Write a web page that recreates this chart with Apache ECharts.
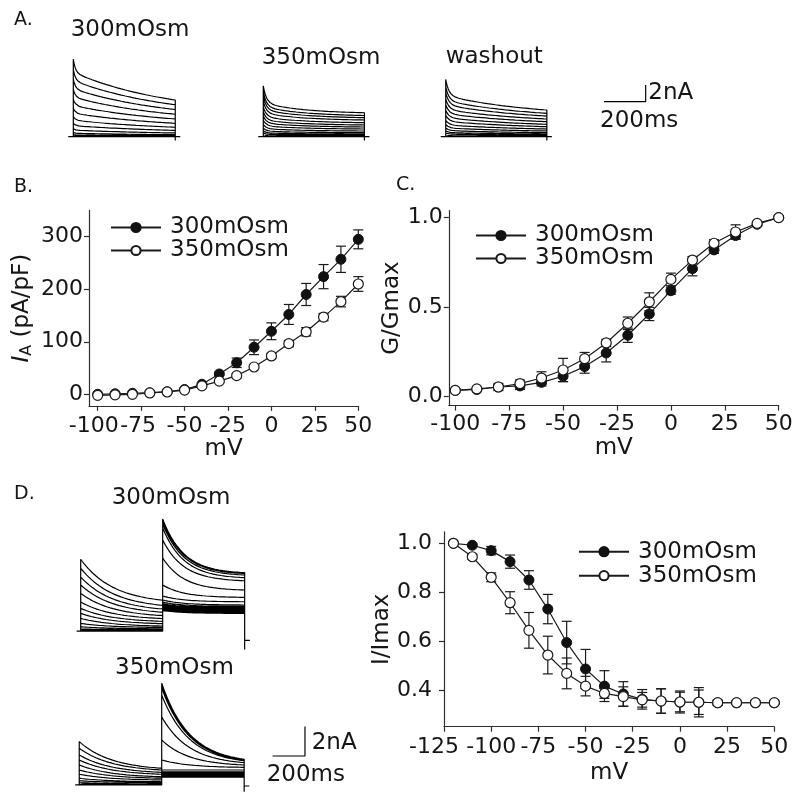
<!DOCTYPE html>
<html><head><meta charset="utf-8">
<script src="https://cdn.jsdelivr.net/npm/echarts@6/dist/echarts.min.js"></script>
<style>html,body{margin:0;padding:0;background:#fff}#c{width:800px;height:806px}</style>
</head><body><div id="c"></div>
<script>
// ---------------- DATA ----------------
// Panel B: I-V relationship
const ivVoltages = [-100,-90,-80,-70,-60,-50,-40,-30,-20,-10,0,10,20,30,40,50];
const iaMean300 = [0,1,2,3,5,9,19,38.7,60,89.5,120,152,190,224,257,295];
const iaErr300  = [0,0,0,0,1,2,3,3,9,14,16,19,21,23,25,18];
const iaMean350 = [-2,-1,0,2.5,4.4,8,16,25,35.5,52,73,96.5,119,147,176.5,210];
const iaErr350  = [0,0,0,0,1,1,2,3,4,3,5,6,8,7,10,14];
// Panel C: activation G/Gmax
const gMean300 = [0.035,0.04,0.054,0.06,0.08,0.114,0.168,0.244,0.343,0.462,0.592,0.715,0.82,0.9,0.963,1.0];
const gErr300  = [0,0,0.01,0.02,0.02,0.03,0.037,0.05,0.04,0.037,0.02,0.04,0.02,0.02,0.01,0];
const gMean350 = [0.035,0.043,0.054,0.073,0.104,0.149,0.212,0.3,0.41,0.53,0.655,0.763,0.857,0.92,0.968,1.0];
const gErr350  = [0,0,0.02,0.02,0.035,0.065,0.035,0.02,0.035,0.05,0.035,0.02,0.02,0.04,0.01,0];
// Panel D: steady-state inactivation I/Imax
const inactVoltages = [-120,-110,-100,-90,-80,-70,-60,-50,-40,-30,-20,-10,0,10,20,30,40,50];
const inMean300 = [1.0,0.992,0.97,0.925,0.85,0.731,0.594,0.486,0.416,0.384,0.362,0.355,0.351,0.35,0.348,0.348,0.348,0.348];
const inErr300  = [0,0.005,0.017,0.027,0.038,0.06,0.087,0.08,0.063,0.05,0.04,0.05,0.045,0.06,0.01,0.005,0.005,0.005];
const inMean350 = [1.0,0.945,0.861,0.757,0.644,0.543,0.468,0.416,0.386,0.373,0.36,0.355,0.351,0.35,0.348,0.348,0.348,0.348];
const inErr350  = [0,0.01,0.018,0.045,0.073,0.077,0.063,0.04,0.02,0.04,0.03,0.05,0.04,0.05,0.01,0.005,0.005,0.005];
// Tick labels
const ivTicksX = [-100,-75,-50,-25,0,25,50];
const iaTicksY = [0,100,200,300];
const gTicksY = [0,0.5,1.0];
const inTicksX = [-125,-100,-75,-50,-25,0,25,50];
const inTicksY = [0.4,0.6,0.8,1.0];
// Panel A current traces: peak current (nA) of each sweep
const peakA300  = [9.3,8.1,6.9,5.7,4.5,3.4,2.4,1.6,0.95,0.5,0.25,0.08];
const peakA350  = [6.1,5.4,4.85,4.25,3.57,2.98,2.47,1.96,1.45,1.02,0.68,0.43,0.17];
const peakAWash = [6.85,6.0,5.3,4.54,3.85,3.17,2.57,1.97,1.46,1.03,0.69,0.43,0.17];
// Panel D traces (nA): prepulse peak/end, test pulse peak/end per sweep
const d300Pre1  = [0,0,0.01,0.02,0.03,0.07,0.14,0.29,0.52,0.86,1.2,1.54,1.97,2.56,3.13,3.67,4.27,4.88];
const d300PreE  = [0,0,0.01,0.02,0.03,0.05,0.09,0.15,0.24,0.34,0.5,0.66,0.85,1.05,1.28,1.5,1.75,2.1];
const d300Test  = [7.62,7.48,7.28,7.01,6.19,4.97,3.13,2.38,2.11,1.97,1.87,1.80,1.73,1.67,1.60,1.53,1.46,1.39];
const d300TestE = [3.97,3.91,3.81,3.63,3.42,2.79,2.29,1.99,1.77,1.67,1.59,1.52,1.45,1.39,1.34,1.29,1.24,1.20];
const d350Pre1  = [0,0,0,0,0.01,0.02,0.03,0.07,0.16,0.29,0.46,0.73,1.02,1.36,1.70,2.04,2.5,2.95];
const d350PreE  = [0,0,0,0,0.01,0.02,0.02,0.03,0.07,0.16,0.22,0.34,0.46,0.56,0.73,0.86,1.02,1.14];
const d350Test  = [6.92,6.8,6.6,6.12,4.63,3.06,1.70,1.02,0.9,0.85,0.8,0.75,0.71,0.68,0.65,0.61,0.58,0.54];
const d350TestE = [1.75,1.71,1.69,1.65,1.52,1.36,1.2,1.02,0.9,0.85,0.8,0.75,0.71,0.68,0.65,0.61,0.58,0.54];

// ---------------- BUILD ----------------
const FONT = 'DejaVu Sans';
const TXT = '#161616';
const AX = '#2e2e2e';
const N = 70;
const BR = ['-','-'];

function stepTraces(peaks, t0, dur, kin, tailLow) {
  const out = [[t0 - 24, 0], [t0 + dur + 24, 0], BR];
  peaks.forEach(P => {
    out.push([t0, 0]);
    for (let k = 0; k <= N; k++) {
      const t = dur * Math.pow(k / N, 2);
      out.push([t0 + t, P * (kin.f * Math.exp(-t / kin.tf) + kin.s * Math.exp(-t / kin.ts) + kin.c)]);
    }
    out.push([t0 + dur, tailLow]);
    out.push(BR);
  });
  return out;
}
function seg(P, E, tau, dur, tStart, out) {
  const e = Math.exp(-dur / tau);
  const C = (E - P * e) / (1 - e);
  for (let k = 0; k <= N; k++) {
    const t = dur * Math.pow(k / N, 2);
    out.push([tStart + t, C + (P - C) * Math.exp(-t / tau)]);
  }
}
function prepulseTraces(P1, E1, P2, E2, t0, dur, tau1, tau2, tailLow, stub) {
  const out = [[t0 - 25, 0], [t0 + dur, 0], BR];
  for (let i = 0; i < P1.length; i++) {
    out.push([t0, 0]);
    seg(P1[i], E1[i], tau1, dur, t0, out);
    seg(P2[i], E2[i], tau2, dur, t0 + dur, out);
    out.push([t0 + 2 * dur, tailLow]);
    out.push(BR);
  }
  out.push([t0 + 2 * dur, stub]); out.push([t0 + 2 * dur + 32, stub]);
  return out;
}
function traceSeries(data, gi) {
  return {type:'line', xAxisIndex:gi, yAxisIndex:gi, data, showSymbol:false, symbol:'none',
    lineStyle:{color:'#000', width:1.2}, silent:true, connectNulls:false, z:2};
}
function errSeries(gi, xs, m, e, z) {
  return {type:'custom', xAxisIndex:gi, yAxisIndex:gi, silent:true, z,
    data: xs.map((x,i)=>[x, m[i]-e[i], m[i]+e[i]]).filter(d=>d[2]-d[1] > 0.0001),
    encode:{x:0, y:[1,2]},
    renderItem(params, api) {
      const x = api.value(0);
      const lo = api.coord([x, api.value(1)]);
      const hi = api.coord([x, api.value(2)]);
      const w = 5, st = {stroke:'#1a1a1a', lineWidth:1.2};
      return {type:'group', children:[
        {type:'line', shape:{x1:lo[0], y1:lo[1], x2:hi[0], y2:hi[1]}, style:st},
        {type:'line', shape:{x1:lo[0]-w, y1:lo[1], x2:lo[0]+w, y2:lo[1]}, style:st},
        {type:'line', shape:{x1:hi[0]-w, y1:hi[1], x2:hi[0]+w, y2:hi[1]}, style:st}
      ]};
    }};
}
function meanSeries(name, gi, xs, m, filled, z) {
  return {type:'line', name, xAxisIndex:gi, yAxisIndex:gi, z,
    data: xs.map((x,i)=>[x, m[i]]), symbol:'circle', symbolSize:10, showSymbol:true,
    lineStyle:{color:'#1a1a1a', width:1.2},
    itemStyle: filled ? {color:'#111', borderColor:'#111', borderWidth:1} : {color:'#fff', borderColor:'#1a1a1a', borderWidth:1.2},
    emphasis:{disabled:true}, silent:true};
}
function hiddenAxis(gi, min, max) {
  return {type:'value', gridIndex:gi, min, max, show:false, splitLine:{show:false}};
}
function xAx(gi, min, max, ticks, margin, nameGap, fmt, rich) {
  return {type:'value', gridIndex:gi, min, max,
    axisLine:{show:true, onZero:false, lineStyle:{color:AX, width:1.2}},
    axisTick:{show:true, length:5, customValues:ticks, lineStyle:{color:AX, width:1.2}},
    axisLabel:{customValues:ticks, margin, fontSize:22, fontFamily:FONT, color:TXT, formatter:fmt, rich},
    splitLine:{show:false},
    name:'mV', nameLocation:'middle', nameGap, nameTextStyle:{fontSize:23, fontFamily:FONT, color:TXT}};
}
function yAx(gi, min, max, ticks, margin, name, nameGap, fmt, rich) {
  return {type:'value', gridIndex:gi, min, max,
    axisLine:{show:true, onZero:false, lineStyle:{color:AX, width:1.2}},
    axisTick:{show:true, length:5, customValues:ticks, lineStyle:{color:AX, width:1.2}},
    axisLabel:{customValues:ticks, margin, fontSize:22, fontFamily:FONT, color:TXT, formatter:fmt},
    splitLine:{show:false},
    name, nameLocation:'middle', nameGap, nameRotate:90,
    nameTextStyle:{fontSize:23, fontFamily:FONT, color:TXT, rich}};
}
function legendAt(left, top, lh) {
  return {orient:'vertical', left, top, itemWidth:50, itemHeight:11.5, itemGap:0,
    data:['300mOsm','350mOsm'], selectedMode:false,
    textStyle:{fontSize:23, fontFamily:FONT, color:TXT, lineHeight:lh, padding:[0,0,0,4]}};
}

const kinA300 = {f:0.169, tf:10, s:0.548, ts:460, c:0.283};
const kinA350 = {f:0.336, tf:15, s:0.211, ts:200, c:0.452};
const kinWash = {f:0.28, tf:15, s:0.36, ts:400, c:0.36};

const traceA = [].concat(
  stepTraces(peakA300, 63.8, 489, kinA300, -0.45),
  stepTraces(peakA350, 975, 485, kinA350, -0.45),
  stepTraces(peakAWash, 1850, 485, kinWash, -0.45)
);
const scaleA = [[2609, 4.19], [2809, 4.19], [2809, 6.19]];
const traceD300 = prepulseTraces(d300Pre1, d300PreE, d300Test, d300TestE, 128, 507, 200, 130, -1.25, -0.64);
const traceD350 = prepulseTraces(d350Pre1, d350PreE, d350Test, d350TestE, 119, 510, 200, 170, -0.46, -0.07);
const scaleD = [[1315, 1.97], [1515, 1.97], [1515, 3.97]];

const lblRichB = {s4:{padding:[0,8,0,0], fontSize:22, fontFamily:FONT, color:TXT}, s3:{padding:[0,6,0,0], fontSize:22, fontFamily:FONT, color:TXT}};
const lblRichD = {s10:{padding:[0,20,0,0], fontSize:22, fontFamily:FONT, color:TXT}};

const option = {
  animation:false,
  backgroundColor:'#fff',
  textStyle:{fontFamily:FONT},
  grid:[
    {left:60, top:50, width:640, height:100, outerBoundsMode:'none'},
    {left:89, top:210.45, width:269.3, height:195.4, outerBoundsMode:'none'},
    {left:448.8, top:210.5, width:329.9, height:195.1, outerBoundsMode:'none'},
    {left:444, top:531.8, width:330.3, height:194.9, outerBoundsMode:'none'},
    {left:60, top:480, width:280, height:170, outerBoundsMode:'none'},
    {left:60, top:650, width:280, height:156, outerBoundsMode:'none'}
  ],
  xAxis:[
    hiddenAxis(0, 0, 3069.5),
    xAx(1, -105, 50, ivTicksX, 9, 27, v => v === -100 ? '{s4|-100}' : (v === -75 ? '{s3|-75}' : String(v)), lblRichB),
    xAx(2, -103, 50, ivTicksX, 8, 29, v => String(v)),
    xAx(3, -125, 50, inTicksX, 10, 35, v => v === -125 ? '{s10|-125}' : String(v), lblRichD),
    hiddenAxis(4, 0, 1731.6),
    hiddenAxis(5, 0, 1731.6)
  ],
  yAxis:[
    hiddenAxis(0, -1.59, 10.38),
    yAx(1, -22, 350, iaTicksY, 6, '{i|I}{s|A} (pA/pF)', 54, v => String(v),
      {i:{fontStyle:'italic', fontSize:23, fontFamily:FONT, color:TXT}, s:{fontSize:16, fontFamily:FONT, color:TXT, padding:[9,0,0,0]}}),
    yAx(2, -0.05, 1.04, gTicksY, 6, 'G/Gmax', 42, v => v.toFixed(1)),
    yAx(3, 0.25, 1.047, inTicksY, 12, 'I/Imax', 49, v => v.toFixed(1)),
    hiddenAxis(4, -1.29, 10.27),
    hiddenAxis(5, -1.43, 9.18)
  ],
  legend:[ legendAt(105, 211, 23), legendAt(470, 219, 22), legendAt(573, 534.7, 24) ],
  graphic:[
    {type:'text', x:14, y:20, style:{text:'A.', font:'19px "DejaVu Sans"', fill:TXT, verticalAlign:'middle'}},
    {type:'text', x:70.7, y:30, style:{text:'300mOsm', font:'23px "DejaVu Sans"', fill:TXT, verticalAlign:'middle'}},
    {type:'text', x:261.7, y:58.3, style:{text:'350mOsm', font:'23px "DejaVu Sans"', fill:TXT, verticalAlign:'middle'}},
    {type:'text', x:445.7, y:57, style:{text:'washout', font:'23px "DejaVu Sans"', fill:TXT, verticalAlign:'middle'}},
    {type:'text', x:648.3, y:93.3, style:{text:'2nA', font:'23px "DejaVu Sans"', fill:TXT, verticalAlign:'middle'}},
    {type:'text', x:600, y:121.3, style:{text:'200ms', font:'23px "DejaVu Sans"', fill:TXT, verticalAlign:'middle'}},
    {type:'text', x:14, y:186.7, style:{text:'B.', font:'19px "DejaVu Sans"', fill:TXT, verticalAlign:'middle'}},
    {type:'text', x:396, y:185, style:{text:'C.', font:'19px "DejaVu Sans"', fill:TXT, verticalAlign:'middle'}},
    {type:'text', x:14, y:494, style:{text:'D.', font:'19px "DejaVu Sans"', fill:TXT, verticalAlign:'middle'}},
    {type:'text', x:111.7, y:498, style:{text:'300mOsm', font:'23px "DejaVu Sans"', fill:TXT, verticalAlign:'middle'}},
    {type:'text', x:115, y:668, style:{text:'350mOsm', font:'23px "DejaVu Sans"', fill:TXT, verticalAlign:'middle'}},
    {type:'text', x:311.7, y:743.3, style:{text:'2nA', font:'23px "DejaVu Sans"', fill:TXT, verticalAlign:'middle'}},
    {type:'text', x:266.7, y:775.3, style:{text:'200ms', font:'23px "DejaVu Sans"', fill:TXT, verticalAlign:'middle'}}
  ],
  series:[
    traceSeries(traceA, 0),
    traceSeries(scaleA, 0),
    traceSeries(traceD300, 4),
    traceSeries(traceD350, 5),
    traceSeries(scaleD, 5),
    errSeries(1, ivVoltages, iaMean300, iaErr300, 1),
    meanSeries('300mOsm', 1, ivVoltages, iaMean300, true, 2),
    errSeries(1, ivVoltages, iaMean350, iaErr350, 3),
    meanSeries('350mOsm', 1, ivVoltages, iaMean350, false, 4),
    errSeries(2, ivVoltages, gMean300, gErr300, 1),
    meanSeries('300mOsm', 2, ivVoltages, gMean300, true, 2),
    errSeries(2, ivVoltages, gMean350, gErr350, 3),
    meanSeries('350mOsm', 2, ivVoltages, gMean350, false, 4),
    errSeries(3, inactVoltages, inMean300, inErr300, 1),
    meanSeries('300mOsm', 3, inactVoltages, inMean300, true, 2),
    errSeries(3, inactVoltages, inMean350, inErr350, 3),
    meanSeries('350mOsm', 3, inactVoltages, inMean350, false, 4)
  ]
};
const chart = echarts.init(document.getElementById('c'), null, {renderer:'canvas'});
chart.setOption(option);
</script></body></html>
